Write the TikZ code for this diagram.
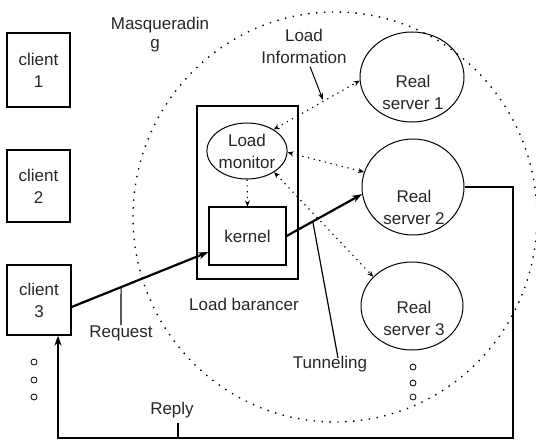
\documentclass[tikz,border=0pt]{standalone}
\usepackage{fontspec}
\setmainfont{Liberation Sans}
\usetikzlibrary{shapes.geometric,arrows.meta}
\begin{document}
\begin{tikzpicture}[x=1pt,y=-1pt,
  every node/.style={font=\fontsize{17}{22}\selectfont, text=black!85},
  box/.style={draw, line width=1.2pt, inner sep=0pt, align=center},
  srv/.style={draw, ellipse, line width=1pt, inner sep=0pt},
  txt/.style={align=center, inner sep=0pt},
  heavy/.style={line width=2.2pt, -{Stealth[length=10pt,width=7pt]}},
  tick/.style={line width=1.2pt},
  ring/.style={line width=1.4pt, dash pattern=on 1.4pt off 6.5pt},
  dotarrow/.style={line width=1.1pt, dash pattern=on 1.3pt off 4.5pt,
    {Stealth[length=6pt,width=5pt]}-{Stealth[length=6pt,width=5pt]}},
  dotone/.style={line width=1.1pt, dash pattern=on 1.3pt off 4.5pt,
    -{Stealth[length=6pt,width=5pt]}},
  pointer/.style={line width=1pt, -{Stealth[length=7pt,width=5pt]}},
  ellip/.style={line width=0.8pt}
]
\useasboundingbox (0,0) rectangle (536,440);

% masquerading region
\draw[ring] (335,217) ellipse [x radius=202, y radius=205];
\node[txt] (masq) at (160,25) {Masqueradin};
\node[txt] (masqg) at (155,46) {g};

% clients
\node[box, minimum width=63pt, minimum height=74pt] (c1) at (38.5,70) {client\\1};
\node[box, minimum width=63pt, minimum height=72pt] (c2) at (38.5,186) {client\\2};
\node[box, minimum width=64pt, minimum height=70pt] (c3) at (39,300) {client\\3};
\foreach \yy in {362,380,397} \draw[ellip] (34,\yy) circle (3);

% load balancer
\node[box, minimum width=101pt, minimum height=173pt] (lb) at (247.5,192.5) {};
\node[srv, minimum width=77pt, minimum height=56pt, align=center] (mon) at (247,151) {Load\\monitor};
\node[box, minimum width=77pt, minimum height=58pt] (ker) at (247.5,236) {kernel};
\node[txt] (lbl) at (244,304) {Load barancer};

% real servers
\node[srv, minimum width=104pt, minimum height=90pt] (s1) at (412,77) {};
\node[txt] (s1t) at (413,92) {Real\\server 1};
\node[srv, minimum width=102pt, minimum height=96pt] (s2) at (413,187) {};
\node[txt] (s2t) at (414,207) {Real\\server 2};
\node[srv, minimum width=102pt, minimum height=88pt] (s3) at (412,306) {};
\node[txt] (s3t) at (414,318) {Real\\server 3};
\foreach \yy in {367,383,397} \draw[ellip] (413,\yy) circle (3);

% load information exchange
\draw[dotarrow] (mon.39) -- (s1.184);
\draw[dotarrow] (mon.-2) -- (s2.163);
\draw[dotarrow] (mon.-38) -- (s3.143);
\draw[dotone] (mon.south) -- (ker.north);
\node[txt] (linfo) at (304,46) {Load\\Information};
\coordinate (lipt) at (323,100);
\draw[pointer] ([xshift=6pt,yshift=-3pt]linfo.south) -- (lipt);

% request path
\node[txt] (req) at (121,333) {Request};
\draw[heavy] ([yshift=-7pt]c3.east) -- coordinate[pos=0.362] (rq) ([yshift=-16pt]ker.west);
\draw[tick] (rq) -- (req.north);

% tunneling to real server
\node[txt] (tun) at (330,364) {Tunneling};
\draw[heavy] (ker.east) -- coordinate[pos=0.347] (tn) (s2.188);
\draw[tick] (tn) -- ([xshift=8pt,yshift=-2pt]tun.north);

% reply path
\coordinate (rc) at (513,438);
\draw[heavy] (s2.east) -| (rc) -| ([xshift=19pt]c3.south);
\node[txt] (rep) at (172,410) {Reply};
\coordinate (rp) at (178,438);
\draw[tick] (rp) -- ++(0,-15);
\end{tikzpicture}
\end{document}
